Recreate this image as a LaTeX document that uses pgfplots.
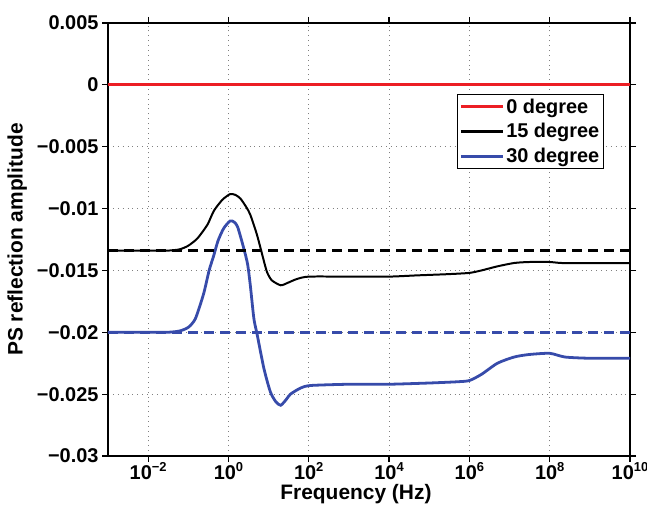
\documentclass[border=0pt]{standalone}
\usepackage{pgfplots}
\pgfplotsset{compat=1.18}
\usepackage{fontspec}
\setmainfont{Liberation Sans}
\definecolor{cred}{RGB}{236,30,36}
\definecolor{cblue}{RGB}{55,75,170}
\newcommand{\ex}[1]{\raisebox{0.75ex}{\fontsize{13}{14}\selectfont #1}}
\begin{document}
\begin{tikzpicture}
\useasboundingbox (0,0) rectangle (647bp,513bp);
\begin{axis}[
  at={(108bp,57bp)}, anchor=south west,
  scale only axis, width=522bp, height=433bp,
  xmode=log, xmin=1e-3, xmax=1e10,
  ymin=-0.03, ymax=0.005,
  scaled y ticks=false,
  xtick={1e-2,1e0,1e2,1e4,1e6,1e8,1e10},
  xticklabels={10\ex{−2},10\ex{0},10\ex{2},10\ex{4},10\ex{6},10\ex{8},10\ex{10}},
  minor xtick={},
  ytick={-0.03,-0.025,-0.02,-0.015,-0.01,-0.005,0,0.005},
  yticklabels={−0.03,−0.025,−0.02,−0.015,−0.01,−0.005,0,0.005},
  tick align=outside, tick style={black, line width=1.2pt}, major tick length=6bp,
  axis line style={line width=1.5pt},
  grid=major,
  major grid style={gray, line width=0.9pt, dash pattern=on 0.9pt off 4pt},
  tick label style={font=\bfseries\fontsize{20}{22}\selectfont},
  xticklabel style={inner sep=0pt, anchor=north, yshift=0bp},
  xlabel={\bfseries\fontsize{21}{23}\selectfont Frequency (Hz)},
  ylabel={\bfseries\fontsize{21}{23}\selectfont PS reflection amplitude},
  xlabel style={at={(axis description cs:0.475,-0.101)}, anchor=base, inner sep=0pt},
  ylabel style={at={(axis description cs:-0.174,0.5)}, anchor=center},
  legend style={at={(0.95,0.836)}, anchor=north east, draw=black, line width=1.2pt,
    font=\bfseries\fontsize{20}{22}\selectfont, inner sep=2pt, row sep=5pt},
  legend cell align=left,
  legend image code/.code={\draw[#1, line width=3pt] (0bp,0bp) -- (42bp,0bp);},
]
\addplot[cred, line width=2.8pt] coordinates {(1e-3,0) (1e10,0)};
\addlegendentry{0 degree}
\addplot[black, line width=2pt, smooth, tension=0.4] coordinates {
(1e-3,-0.0134) (1e-2,-0.0134) (0.03,-0.0134) (0.06,-0.0133) (0.1,-0.0130) (0.17,-0.0124) (0.3,-0.0113) (0.43,-0.0102) (0.7,-0.0093) (1.1,-0.00883) (1.5,-0.0089) (2,-0.0092) (2.8,-0.0099) (3.5,-0.0105) (5,-0.0120) (6.3,-0.0132) (8,-0.0145) (9.3,-0.0152) (12,-0.0158) (20,-0.0162) (30,-0.0160) (50,-0.0157) (100,-0.0155) (1e3,-0.0155) (1e4,-0.0155) (5e4,-0.0154) (3e5,-0.0153) (1e6,-0.0152) (2e6,-0.0150) (5e6,-0.01467) (1.3e7,-0.0144) (3e7,-0.01432) (1e8,-0.01432) (2e8,-0.0144) (1e9,-0.0144) (1e10,-0.0144)};
\addlegendentry{15 degree}
\addplot[cblue, line width=2.8pt, smooth, tension=0.4] coordinates {
(1e-3,-0.0200) (0.01,-0.0200) (0.03,-0.0200) (0.06,-0.0199) (0.1,-0.0196) (0.15,-0.0189) (0.24,-0.0169) (0.33,-0.0150) (0.43,-0.0138) (0.55,-0.0126) (0.76,-0.0116) (1.1,-0.0110) (1.4,-0.0111) (1.7,-0.0115) (2.4,-0.0132) (3,-0.0145) (3.5,-0.0162) (4.3,-0.0189) (5.2,-0.0202) (7.6,-0.0229) (11,-0.0248) (15,-0.0256) (20,-0.0259) (28,-0.0254) (35,-0.0250) (63,-0.0245) (112,-0.0243) (1e3,-0.0242) (1e4,-0.0242) (1e5,-0.0241) (5e5,-0.0240) (1e6,-0.0239) (2e6,-0.0234) (5e6,-0.0225) (1.3e7,-0.0220) (3e7,-0.0218) (1e8,-0.0217) (2.4e8,-0.0220) (1e9,-0.0221) (1e10,-0.0221)};
\addlegendentry{30 degree}
\addplot[black, line width=2.8pt, dash pattern=on 10bp off 6bp, forget plot] coordinates {(1e-3,-0.0134) (1e10,-0.0134)};
\addplot[cblue, line width=2.8pt, dash pattern=on 10bp off 6bp, forget plot] coordinates {(1e-3,-0.0200) (1e10,-0.0200)};
\end{axis}
\end{tikzpicture}
\end{document}
